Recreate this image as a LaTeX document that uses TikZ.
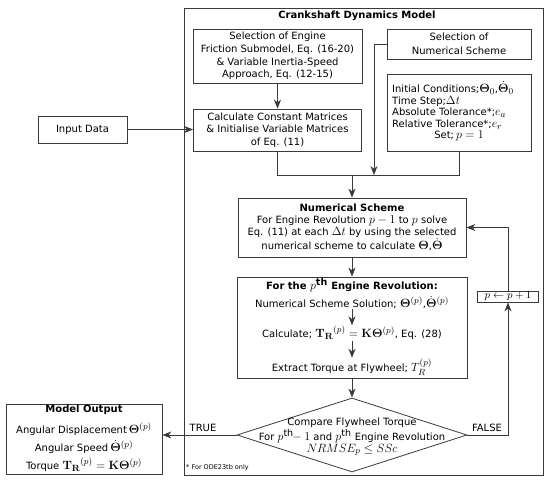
\documentclass[tikz,border=0pt]{standalone}
\usepackage{amsmath,amssymb}
\usepackage[no-math]{fontspec}
\setmainfont{DejaVu Sans}
\DeclareMathSizes{10}{12}{9.5}{7.5}
\usetikzlibrary{arrows.meta,shapes.geometric,calc}
\definecolor{linec}{HTML}{3A3A3A}
\begin{document}
\begin{tikzpicture}[x=1pt,y=-1pt,
  font=\fontsize{10}{12.5}\selectfont,
  box/.style={draw=linec, line width=0.8pt, inner sep=0pt, align=center},
  ln/.style={draw=linec, line width=0.8pt},
  arr/.style={draw=linec, line width=0.8pt, -{Stealth[length=9pt,width=7pt,inset=2.8pt]}},
  txt/.style={inner sep=0.5pt, align=center}]
\useasboundingbox (0,0) rectangle (550,482);
% frame
\node[box, minimum width=359pt, minimum height=467pt] (frame) at (363.5,241.5) {};
\node[txt, font=\fontsize{10}{12}\selectfont\bfseries] (title) at (357,16) {Crankshaft Dynamics Model};
% top boxes
\node[box, minimum width=169pt, minimum height=54pt, font=\fontsize{10}{12.8}\selectfont] (fric) at (277.5,56)
  {Selection of Engine\\Friction Submodel, Eq. (16-20)\\\& Variable Inertia-Speed\\Approach, Eq. (12-15)};
\node[box, minimum width=168pt, minimum height=42pt] (calc) at (277.5,130)
  {Calculate Constant Matrices\\\& Initialise Variable Matrices\\of Eq. (11)};
\node[box, minimum width=144pt, minimum height=30pt, font=\fontsize{10}{13.5}\selectfont] (numsel) at (459,44)
  {Selection of\\Numerical Scheme};
\node[box, minimum width=144pt, minimum height=77pt] (ic) at (459,112.5) {};
\node[anchor=west, inner sep=0pt, align=left, font=\fontsize{10}{11.5}\selectfont] (ictext) at (392,105.5)
  {Initial Conditions;$\mathbf{\Theta}_0$,$\dot{\mathbf{\Theta}}_0$\\Time Step;$\Delta t$\\Absolute Tolerance*;$e_a$\\Relative Tolerance*;$e_r$};
\node[txt] (icset) at (459,136) {Set;$\,p=1$};
% input
\node[box, minimum width=89pt, minimum height=27pt] (input) at (82.5,129.5) {Input Data};
% numerical scheme
\node[box, minimum width=228pt, minimum height=59pt, font=\fontsize{10}{12.2}\selectfont] (numsch) at (352,227.5)
  {\textbf{Numerical Scheme}\\For Engine Revolution $p-1$ to $p$ solve\\Eq. (11) at each $\Delta t$ by using the selected\\numerical scheme to calculate $\mathbf{\Theta}$,$\dot{\mathbf{\Theta}}$};
% p-th revolution
\node[box, minimum width=230pt, minimum height=101pt] (pbox) at (352,327.5) {};
\node[txt, font=\fontsize{10}{12}\selectfont\bfseries] (p1) at (352,285) {For the $p^{\textbf{th}}$ Engine Revolution:};
\node[txt] (p2) at (352,302.5) {Numerical Scheme Solution; $\mathbf{\Theta}^{(p)}$,$\dot{\mathbf{\Theta}}^{(p)}$};
\node[txt] (p3) at (352,333) {Calculate; ${\mathbf{T}_{\mathbf{R}}}^{(p)}=\mathbf{K}\mathbf{\Theta}^{(p)}$, Eq. (28)};
\node[txt] (p4) at (352,367) {Extract Torque at Flywheel; $T_R^{(p)}$};
% comparison
\node[draw=linec, line width=0.8pt, diamond, minimum width=230pt, minimum height=74pt, inner sep=0pt] (cmp) at (352,435) {};
\node[txt, font=\fontsize{10}{11.5}\selectfont] (cmptext) at (352,437)
  {Compare Flywheel Torque\\For $p^{\text{th}}\!\!-1$ and $p^{\text{th}}$ Engine Revolution\\$NRMSE_p\le SSc$};
% output
\node[box, minimum width=156pt, minimum height=70pt] (out) at (84,439) {};
\node[txt, font=\fontsize{10}{12}\selectfont\bfseries] (o1) at (84,410) {Model Output};
\node[txt] (o2) at (84,429) {Angular Displacement$\,\mathbf{\Theta}^{(p)}$};
\node[txt] (o3) at (84,447) {Angular Speed$\,\dot{\mathbf{\Theta}}^{(p)}$};
\node[txt] (o4) at (84,464.5) {Torque ${\mathbf{T}_{\mathbf{R}}}^{(p)}=\mathbf{K}\mathbf{\Theta}^{(p)}$};
% increment
\node[box, minimum width=61pt, minimum height=11pt, font=\fontsize{10.5}{12}\selectfont] (pinc) at (508,296.5) {$p\leftarrow p+1$};
% labels
\node[txt] (true) at (203,428) {TRUE};
\node[txt] (false) at (487,428) {FALSE};
\node[anchor=west, inner sep=0pt, font=\fontsize{6.5}{8}\selectfont] (foot) at (186,468) {* For ODE23tb only};
% coordinates
\coordinate (mM) at (352,175);
\coordinate (nsturn) at (374,44);
\coordinate (fr) at (508,435);
% connectors
\draw[arr] (fric) -- (calc);
\draw[arr] (input.east) -- (input.east -| calc.west);
\draw[ln] (calc.south) -- (calc.south |- mM) -- (ic.south |- mM) -- (ic.south);
\draw[arr] (numsel.west) -- (nsturn) -- (nsturn |- mM);
\draw[arr] (mM) -- (numsch.north);
\draw[arr] (numsch) -- (pbox);
\draw[arr] (p2) -- (p3);
\draw[arr] (p3) -- (p4);
\draw[arr] (pbox) -- (cmp);
\draw[arr] (cmp.west) -- (cmp.west -| out.east);
\draw[arr] (cmp.east) -- (fr) -- (pinc.south);
\draw[arr] (pinc.north) -- (pinc.north |- numsch.east) -- (numsch.east);
\end{tikzpicture}
\end{document}
